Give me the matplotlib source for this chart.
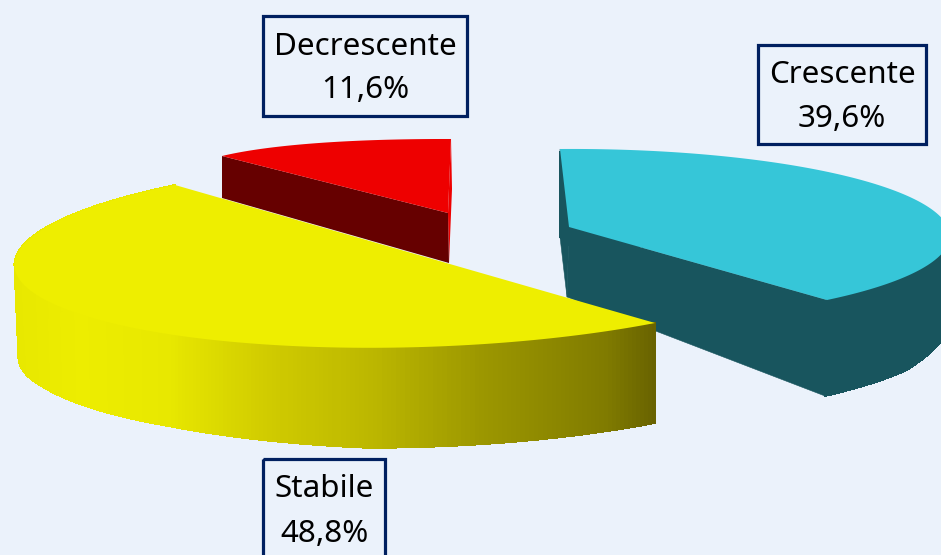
import numpy as np
import matplotlib
matplotlib.use("Agg")
import matplotlib.pyplot as plt
from matplotlib.collections import PolyCollection
from matplotlib.colors import to_rgb
from matplotlib.patches import Rectangle

# --- data ---
categories = ["Crescente", "Stabile", "Decrescente"]
shares = [39.6, 48.8, 11.6]
value_labels = ["39,6%", "48,8%", "11,6%"]

# --- style / layout (pixel space of the figure) ---
BG = "#EBF2FB"
TOP = {"Crescente": "#36C6D8", "Stabile": "#EEEE00", "Decrescente": "#EE0000"}
WALL = {"Crescente": "#18555E", "Decrescente": "#660000"}
# perspective anchors: apex, rim start, rim middle, rim end of each slice
TOP_ANCHORS = {
    "Crescente": [(569, 227), (560, 149), (912, 198), (827, 300)],
    "Stabile": [(400, 243.7), (655, 323), (68, 310), (175, 185)],
    "Decrescente": [(448, 213), (222, 156), (306, 144), (451, 139)],
}
# extrusion of the rim, as (top-rim x, dx, dy)
CYAN_DROP = ([560, 570, 827, 907, 941], [0, -2, -2, 0, 0], [88, 96, 96, 94, 87])
YELLOW_DROP = ([14, 40, 170, 367, 655], [4, 3, 0, 0, 0], [92, 90, 92, 100, 100])
# extrusion of the radial corners: apex, rim start, rim end
CORNER_DROP = {
    "Crescente": [(-2, 70), (0, 88), (-2, 96)],
    "Decrescente": [(1, 50), (0, 42), (1, 50)],
}
GRAD_X = [17, 80, 167, 267, 367, 480, 540, 607, 655]
GRAD_C = ["#E8E800", "#EDED00", "#E8E800", "#D0CB00", "#BDB800", "#9C9700", "#8F8A00", "#7F7A00", "#686200"]
BOXES = {
    "Crescente": (758.5, 44.5, 926, 143.5, 75, 119),
    "Stabile": (263.5, 458.5, 385, 570, 489, 534),
    "Decrescente": (263.5, 15.5, 467, 116, 47, 90),
}
plt.rcParams["font.family"] = ["Noto Sans", "DejaVu Sans"]


def homography(src, dst):
    A, b = [], []
    for (x, y), (u, v) in zip(src, dst):
        A.append([x, y, 1, 0, 0, 0, -u * x, -u * y]); b.append(u)
        A.append([0, 0, 0, x, y, 1, -v * x, -v * y]); b.append(v)
    return np.append(np.linalg.solve(np.array(A), np.array(b)), 1).reshape(3, 3)


def project(H, pts):
    p = H @ np.column_stack([pts, np.ones(len(pts))]).T
    return (p[:2] / p[2]).T


def extrude(rim, table):
    xs, dx, dy = table
    return rim + np.column_stack([np.interp(rim[:, 0], xs, dx), np.interp(rim[:, 0], xs, dy)])


def strips(upper, lower):
    return [[upper[i], upper[i + 1], lower[i + 1], lower[i]] for i in range(len(upper) - 1)]


fig = plt.figure(figsize=(9.41, 5.55), dpi=100, facecolor=BG)
ax = fig.add_axes([0, 0, 1, 1])
ax.set_xlim(0, 941)
ax.set_ylim(555, 0)
ax.axis("off")

edges = np.radians(np.cumsum([0] + shares) * 3.6)
rims = {}
for name, a0, a1 in zip(categories, edges[:-1], edges[1:]):
    am = (a0 + a1) / 2
    src = [(0, 0)] + [(np.cos(a), np.sin(a)) for a in (a0, am, a1)]
    th = np.linspace(a0, a1, 300)
    rims[name] = project(homography(src, TOP_ANCHORS[name]), np.column_stack([np.cos(th), np.sin(th)]))


def corners(name):
    apex = np.array(TOP_ANCHORS[name][0], float)
    rim = rims[name]
    d = np.array(CORNER_DROP[name], float)
    return apex, rim[0], rim[-1], apex + d[0], rim[0] + d[1], rim[-1] + d[2]


# Decrescente
name = "Decrescente"
at, st, et, ab, sb, eb = corners(name)
ax.fill(*np.array([at, et, eb, ab]).T, color=TOP[name], lw=0)
ax.fill(*np.array([st, at, ab, sb]).T, color=WALL[name], lw=0)
ax.fill(*np.vstack([at, rims[name]]).T, color=TOP[name], lw=0)

# Crescente
name = "Crescente"
rim = rims[name]
at, st, et, ab, sb, eb = corners(name)
col = WALL[name]
upper = rim.copy()
upper[: int(np.argmax(rim[:, 0])), 1] += 2.5  # the back of the rim must not peek out behind the top face
ax.add_collection(PolyCollection(strips(upper, extrude(rim, CYAN_DROP)), facecolors=col, edgecolors=col,
                                 linewidths=0.6, antialiaseds=False))
ax.fill(*np.array([st, at, ab, sb]).T, color=col, lw=0.4, edgecolor=col)
ax.fill(*np.array([at, et, eb, ab]).T, color=col, lw=0.4, edgecolor=col)
ax.fill(*np.vstack([at, rim]).T, color=TOP[name], lw=0)

# Stabile: rim wall shaded along x, top face closes along its straight edge
name = "Stabile"
rim = rims[name]
low = extrude(rim, YELLOW_DROP)
quads = strips(rim, low)
rgb = np.array([to_rgb(c) for c in GRAD_C])
xm = np.array([np.mean(np.array(q)[:, 0]) for q in quads])
cols = np.column_stack([np.interp(xm, GRAD_X, rgb[:, k]) for k in range(3)])
ax.add_collection(PolyCollection(quads, facecolors=cols, edgecolors=cols, linewidths=0.6, antialiaseds=False))
ax.fill(*rim.T, color=TOP[name], lw=0)

# Labels
for name, lab in zip(categories, value_labels):
    x0, y0, x1, y1, ty1, ty2 = BOXES[name]
    ax.add_patch(Rectangle((x0, y0), x1 - x0, y1 - y0, fill=False, ec="#002060", lw=2.3))
    xc = (x0 + x1) / 2
    ax.text(xc, ty1, name, ha="center", va="center", fontsize=22.6, color="#000000")
    ax.text(xc, ty2, lab, ha="center", va="center", fontsize=22.6, color="#000000")

fig.savefig("out.png", dpi=100, facecolor=BG)
